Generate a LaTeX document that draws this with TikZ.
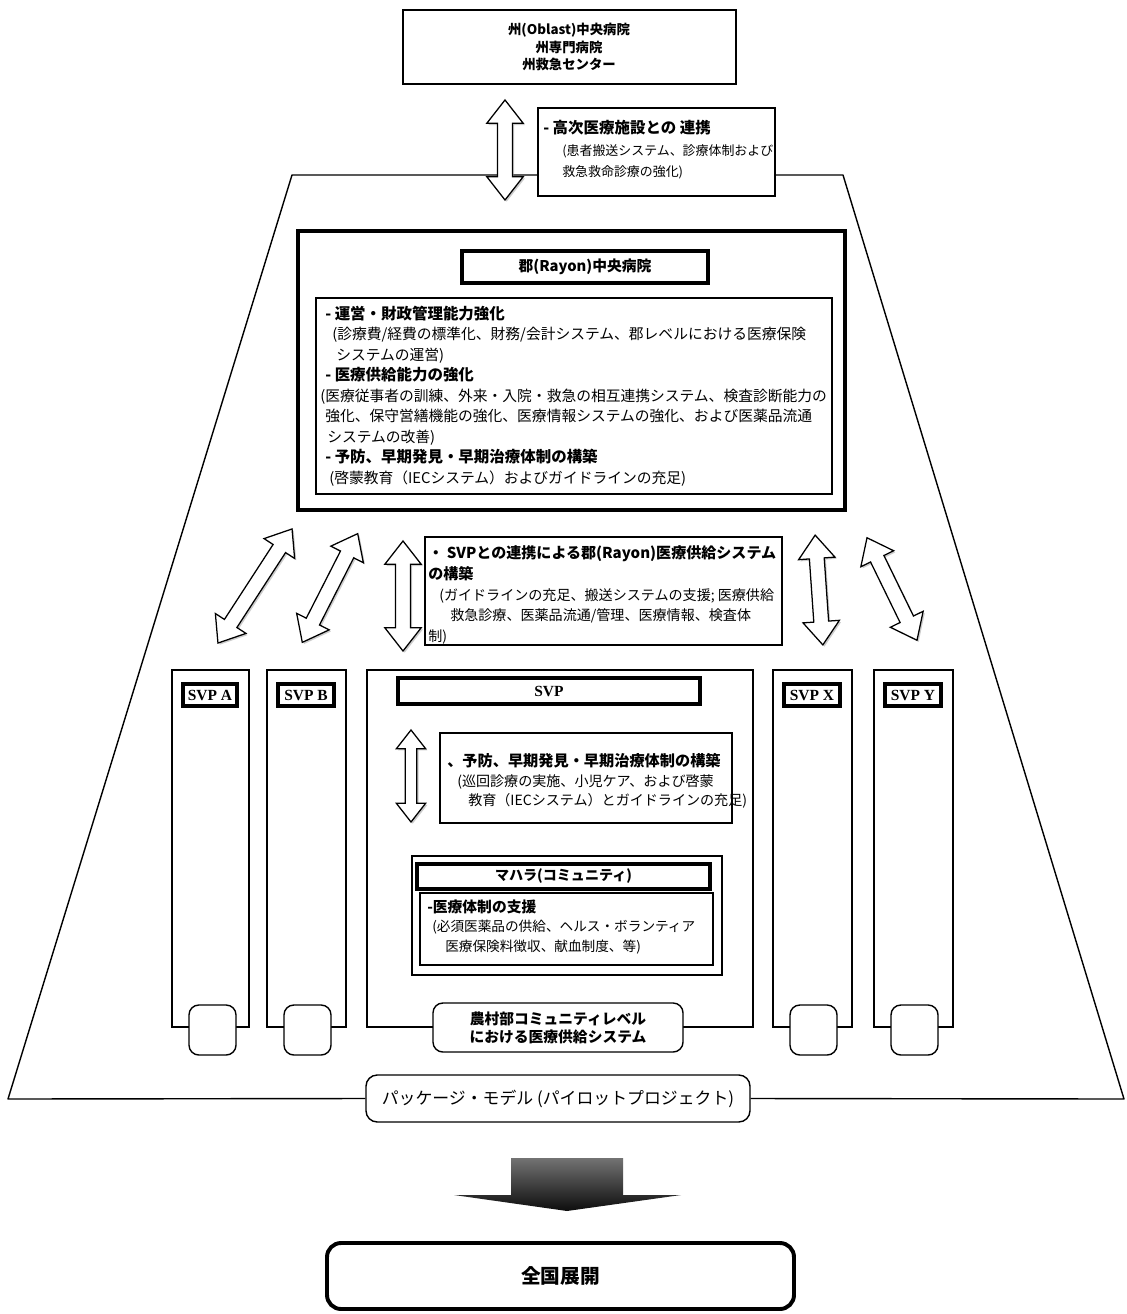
\documentclass[tikz,border=0pt]{standalone}
\usepackage{fontspec}
\setmainfont{Noto Sans CJK JP}
\newfontfamily\svpfont{Liberation Serif}
\usetikzlibrary{fit,shapes.arrows,shadows}

\begin{document}
\begin{tikzpicture}
[
	x=0.025cm,
	y=-0.025cm,
	frame/.style={draw,fill=white,line width=1pt,inner sep=0pt},
	heavyframe/.style={frame,line width=3.4pt},
	tagframe/.style={frame,line width=2.5pt},
	roundframe/.style={frame,rounded corners=7pt},
	caption/.style={inner sep=0pt,align=center},
	svplabel/.style={caption,font=\svpfont\bfseries\fontsize{11}{12}\selectfont},
	txt/.style={anchor=west,inner sep=0pt,align=left},
	wayarr/.style={double arrow,draw,fill=white,line width=0.9pt,inner xsep=0pt,inner ysep=0.17cm,
		double arrow head extend=0.27cm,double arrow tip angle=76,
		drop shadow={shadow xshift=1.2pt,shadow yshift=-1.2pt,fill=black!40,opacity=0.5}}
]

	\useasboundingbox (0,0) rectangle (1126,1314);

	% pilot package and outline
	\node[roundframe,rounded corners=8pt,fit={(366,1075) (750,1122)}] (pkg) {};
	\node[caption,font=\fontsize{12}{14}\selectfont] (pkgtxt) at (pkg.center) {パッケージ・モデル (パイロットプロジェクト)};
	\draw[line width=1pt,line join=round] (pkg.west) -- (8,1099) -- (292,175) -- (843,175) -- (1124,1099) -- (pkg.east);

	% oblast level
	\node[frame,line width=1.6pt,fit={(403,10) (736,84)}] (oblast) {};
	\node[caption,font=\bfseries\fontsize{9.5}{12.3}\selectfont] (oblasttxt) at (569,47) {州(Oblast)中央病院\\州専門病院\\州救急センター};
	\node[wayarr,minimum height=2.5cm,rotate=90] (oblastarr) at (505,150) {};
	\node[frame,fit={(538,108) (775,196)}] (hilink) {};
	\node[txt,font=\fontsize{9.2}{15.3}\selectfont] (hilinktxt) at (543,150) {{\bfseries\fontsize{11}{15.3}\selectfont - 高次医療施設との 連携}\\
		\hspace*{0.475cm}(患者搬送システム、診療体制および\\
		\hspace*{0.475cm}救急救命診療の強化)};

	% rayon hospital
	\node[heavyframe,fit={(298,231) (845,510)}] (rayon) {};
	\node[tagframe,fit={(462,251) (708,283)}] (rayontitle) {};
	\node[caption,font=\bfseries\fontsize{10.5}{12}\selectfont] (rayontitletxt) at (rayontitle.center) {郡(Rayon)中央病院};
	\node[frame,fit={(316,298) (832,494)}] (rayonbody) {};
	\node[txt,font=\fontsize{10.5}{14.6}\selectfont] (rayontxt) at (320,396) {%
		\hspace*{0.125cm}{\bfseries\fontsize{11}{14.6}\selectfont - 運営・財政管理能力強化}\\
		\hspace*{0.3cm}(診療費/経費の標準化、財務/会計システム、郡レベルにおける医療保険\\
		\hspace*{0.4cm}システムの運営)\\
		\hspace*{0.125cm}{\bfseries\fontsize{11}{14.6}\selectfont - 医療供給能力の強化}\\
		(医療従事者の訓練、外来・入院・救急の相互連携システム、検査診断能力の\\
		\hspace*{0.125cm}強化、保守営繕機能の強化、医療情報システムの強化、および医薬品流通\\
		\hspace*{0.175cm}システムの改善)\\
		\hspace*{0.125cm}{\bfseries\fontsize{11}{14.6}\selectfont - 予防、早期発見・早期治療体制の構築}\\
		\hspace*{0.225cm}(啓蒙教育（IECシステム）およびガイドラインの充足)};

	% links to the SVPs
	\node[wayarr,minimum height=3.4cm,rotate=57] (arra) at (255,586) {};
	\node[wayarr,minimum height=3.05cm,rotate=63] (arrb) at (330,588) {};
	\node[wayarr,minimum height=2.75cm,rotate=90] (arrsvp) at (403,596) {};
	\node[wayarr,minimum height=2.75cm,rotate=94] (arrx) at (819,590) {};
	\node[wayarr,minimum height=2.85cm,rotate=116] (arry) at (892,589) {};
	\node[frame,fit={(425,537) (782,645)}] (svplink) {};
	\node[txt,font=\fontsize{10}{14.8}\selectfont] (svplinktxt) at (428,595) {%
		{\bfseries\fontsize{10.7}{14.8}\selectfont ・ SVPとの連携による郡(Rayon)医療供給システム}\\
		{\bfseries\fontsize{10.7}{14.8}\selectfont の構築}\\
		\hspace*{0.275cm}(ガイドラインの充足、搬送システムの支援; 医療供給\\
		\hspace*{0.55cm}救急診療、医薬品流通/管理、医療情報、検査体\\
		制)};

	% SVP columns
	\foreach \name/\xa/\xb/\lbl in {svpa/172/249/A, svpb/267/346/B, svpx/773/852/X, svpy/874/953/Y} {
		\node[frame,fit={(\xa,670) (\xb,1027)}] (\name) {};
		\node[tagframe,fit={(\xa+11,684) (\xb-12,706)}] (tag\name) {};
		\node[svplabel] (lbl\name) at (tag\name.center) {SVP \lbl};
		\node[roundframe,fit={(\xa+17,1005) (\xa+64,1055)}] (foot\name) {};
	}

	% central SVP
	\node[frame,fit={(367,670) (753,1027)}] (svp) {};
	\node[tagframe,fit={(398,678) (700,704)}] (svphead) {};
	\node[svplabel] (svpheadtxt) at (svphead.center) {SVP};
	\node[wayarr,inner ysep=0.13cm,double arrow head extend=0.22cm,minimum height=2.3cm,rotate=90] (arrmahalla) at (411,776) {};
	\node[frame,fit={(440,733) (732,823)}] (prevent) {};
	\node[txt,font=\fontsize{10}{13.9}\selectfont] (preventtxt) at (447,781) {%
		{\bfseries\fontsize{10.8}{13.9}\selectfont 、予防、早期発見・早期治療体制の構築}\\
		\hspace*{0.25cm}(巡回診療の実施、小児ケア、および啓蒙\\
		\hspace*{0.525cm}教育（IECシステム）とガイドラインの充足)};

	% mahalla
	\node[frame,fit={(412,856) (722,975)}] (mahalla) {};
	\node[tagframe,fit={(417,864) (710,889)}] (mahallahead) {};
	\node[caption,font=\bfseries\fontsize{10}{12}\selectfont] (mahallaheadtxt) at (mahallahead.center) {マハラ(コミュニティ)};
	\node[frame,fit={(420,893) (713,965)}] (mahallabody) {};
	\node[txt,font=\fontsize{9.7}{13.9}\selectfont] (mahallatxt) at (427,927) {%
		{\bfseries\fontsize{10.5}{13.9}\selectfont -医療体制の支援}\\
		\hspace*{0.125cm}(必須医薬品の供給、ヘルス・ボランティア\\
		\hspace*{0.45cm}医療保険料徴収、献血制度、等)};
	\node[roundframe,fit={(433,1003) (683,1052)}] (rural) {};
	\node[caption,font=\bfseries\fontsize{10.5}{12.8}\selectfont] (ruraltxt) at (rural.center) {農村部コミュニティレベル\\における医療供給システム};

	% nationwide roll-out
	\shade[top color=black!55,bottom color=black!95] (511,1158) -- (623,1158) -- (623,1195) -- (681,1195) -- (567,1211) -- (454,1195) -- (511,1195) -- cycle;
	\node[frame,line width=2.8pt,rounded corners=10pt,fit={(327,1243) (794,1309)}] (nation) {};
	\node[caption,font=\bfseries\fontsize{14}{16}\selectfont] (nationtxt) at (nation.center) {全国展開};

\end{tikzpicture}
\end{document}
